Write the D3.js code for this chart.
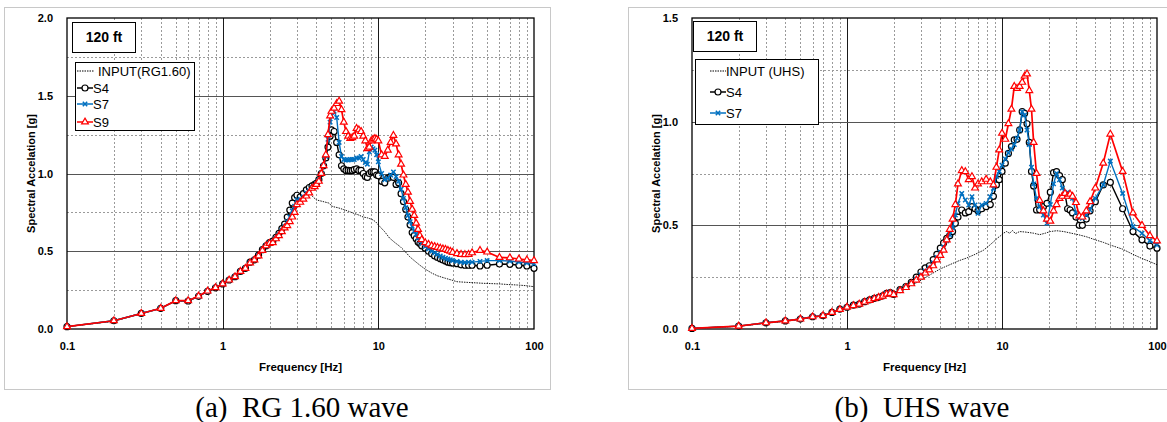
<!DOCTYPE html>
<html>
<head>
<meta charset="utf-8">
<script src="https://cdn.jsdelivr.net/npm/d3@7"></script>
<style>
  body { margin: 0; background: #fff; }
  svg text { font-family: "Liberation Sans", Arial, sans-serif; fill: #000; }
</style>
</head>
<body>
<script>
'use strict';

// ---------- (a) RG 1.60 wave ----------
const freqA = [0.1,0.2,0.3,0.4,0.5,0.6,0.7,0.8,0.9,1.0,
  1.1,1.2,1.3,1.4,1.5,1.6,1.7,1.8,1.9,2.0,
  2.1,2.2,2.3,2.4,2.5,2.6,2.7,2.8,2.9,3.0,
  3.15,3.3,3.45,3.6,3.75,3.9,4.0,4.15,4.3,4.45,
  4.6,4.75,4.9,5.0,5.2,5.4,5.6,5.8,6.0,6.2,
  6.4,6.6,6.8,7.0,7.25,7.5,7.75,8.0,8.25,8.5,
  8.75,9.0,9.25,9.5,9.75,10,10.5,11,11.5,12,
  12.5,13,13.5,14,14.5,15,15.5,16,16.5,17,
  17.5,18,18.5,19,20,21,22,23,24,25,
  26,27,28,29,30,32,34,36,38,40,
  45,50,60,70,80,90,100];

const s4A = [0.015,0.053,0.10,0.133,0.182,0.18,0.21,0.242,0.265,0.29,
  0.315,0.336,0.37,0.39,0.43,0.445,0.475,0.51,0.535,0.555,
  0.565,0.59,0.615,0.645,0.675,0.72,0.765,0.81,0.845,0.86,
  0.85,0.87,0.895,0.91,0.92,0.93,0.937,0.96,1.0,1.05,
  1.10,1.17,1.24,1.28,1.27,1.20,1.12,1.05,1.03,1.02,
  1.02,1.018,1.02,1.025,1.03,1.02,1.02,1.0,0.98,0.975,
  1.0,1.01,1.01,1.01,0.99,0.985,0.95,0.94,0.97,0.98,
  0.975,0.93,0.94,0.87,0.82,0.77,0.72,0.67,0.62,0.60,
  0.58,0.56,0.55,0.535,0.52,0.50,0.485,0.47,0.46,0.452,
  0.444,0.437,0.43,0.426,0.424,0.42,0.413,0.41,0.41,0.41,
  0.405,0.41,0.418,0.416,0.41,0.405,0.39];

const s7A = [0.015,0.053,0.10,0.133,0.182,0.181,0.211,0.243,0.266,0.29,
  0.315,0.336,0.37,0.39,0.428,0.445,0.472,0.508,0.535,0.552,
  0.56,0.585,0.607,0.635,0.66,0.69,0.72,0.76,0.79,0.83,
  0.835,0.85,0.875,0.89,0.91,0.92,0.935,0.955,1.0,1.05,
  1.11,1.22,1.33,1.37,1.40,1.36,1.20,1.11,1.09,1.087,
  1.087,1.09,1.09,1.09,1.10,1.10,1.11,1.09,1.07,1.06,
  1.14,1.17,1.16,1.15,1.12,1.075,1.0,0.96,0.97,0.99,
  1.01,0.98,0.95,0.90,0.84,0.78,0.73,0.69,0.66,0.63,
  0.61,0.585,0.565,0.55,0.53,0.515,0.50,0.49,0.48,0.47,
  0.462,0.455,0.45,0.445,0.44,0.435,0.43,0.428,0.43,0.43,
  0.435,0.44,0.44,0.437,0.43,0.425,0.42];

const s9A = [0.015,0.053,0.10,0.133,0.182,0.182,0.212,0.244,0.266,0.29,
  0.315,0.336,0.37,0.39,0.425,0.444,0.47,0.505,0.535,0.55,
  0.555,0.58,0.60,0.626,0.65,0.665,0.69,0.72,0.75,0.80,
  0.815,0.835,0.855,0.875,0.905,0.915,0.93,0.95,1.0,1.05,
  1.12,1.25,1.37,1.40,1.42,1.45,1.465,1.41,1.33,1.27,
  1.24,1.226,1.23,1.24,1.29,1.28,1.27,1.24,1.21,1.16,
  1.17,1.21,1.22,1.225,1.22,1.21,1.12,1.11,1.15,1.20,
  1.245,1.19,1.12,1.06,0.99,0.93,0.88,0.82,0.77,0.73,
  0.68,0.64,0.60,0.575,0.555,0.545,0.535,0.53,0.525,0.52,
  0.515,0.512,0.505,0.50,0.493,0.485,0.48,0.478,0.48,0.49,
  0.505,0.495,0.46,0.458,0.45,0.444,0.44];

const inFreqA = [0.1,0.2,0.3,0.4,0.5,0.6,0.7,0.8,0.9,1.0,1.2,1.4,1.6,1.8,2.0,2.2,2.4,2.6,2.8,3.0,
  3.2,3.4,3.6,3.8,4.0,4.4,4.8,5.1,5.5,5.9,6.4,6.9,7.4,8.0,8.5,9.1,9.6,10.2,11,11.8,12.8,
  13.8,14.8,15.9,17,18.5,20,22,24,27,29.5,32,37,42,47,53,60,68,78,88,100];
const inA = [0.015,0.05,0.1,0.133,0.18,0.18,0.21,0.24,0.26,0.29,0.335,0.39,0.44,0.5,0.545,0.575,0.62,0.66,0.72,0.78,
  0.82,0.85,0.875,0.85,0.83,0.82,0.81,0.787,0.78,0.77,0.758,0.745,0.735,0.72,0.715,0.705,0.69,0.66,0.625,0.585,0.555,
  0.53,0.5,0.465,0.44,0.41,0.385,0.36,0.342,0.326,0.315,0.304,0.3,0.297,0.294,0.292,0.29,0.286,0.283,0.279,0.272];

// ---------- (b) UHS wave ----------
const freqB = [0.1,0.2,0.3,0.4,0.5,0.6,0.7,0.8,0.9,1.0,
  1.1,1.2,1.3,1.4,1.5,1.6,1.7,1.8,1.9,2.0,
  2.2,2.4,2.6,2.8,3.0,3.2,3.4,3.6,3.8,4.0,
  4.2,4.4,4.6,4.8,5.0,5.2,5.5,5.8,6.1,6.4,
  6.7,7.0,7.4,7.9,8.4,8.8,9.2,9.6,10,10.5,
  11,11.5,12,12.5,13,13.5,14,14.5,15,15.5,
  16,16.7,17.5,18.5,19.5,20.5,21.5,22.5,23.5,24.5,
  25.5,26.5,27.5,28.5,30,31.5,33,35,37,40,
  45,50,60,70,80,90,100];

const s4B = [0.003,0.014,0.03,0.039,0.048,0.059,0.064,0.08,0.096,0.105,
  0.115,0.12,0.132,0.14,0.148,0.153,0.16,0.172,0.175,0.167,
  0.19,0.205,0.225,0.25,0.275,0.295,0.305,0.335,0.36,0.39,
  0.415,0.437,0.45,0.47,0.51,0.54,0.574,0.56,0.566,0.59,
  0.58,0.57,0.58,0.59,0.60,0.64,0.695,0.72,0.76,0.80,
  0.847,0.88,0.912,0.915,0.96,1.048,1.04,0.99,0.90,0.76,
  0.69,0.574,0.575,0.59,0.606,0.66,0.754,0.759,0.74,0.72,
  0.65,0.58,0.574,0.56,0.54,0.50,0.50,0.53,0.57,0.614,
  0.695,0.707,0.58,0.47,0.43,0.40,0.39];

const s7B = [0.003,0.014,0.03,0.039,0.048,0.059,0.064,0.08,0.095,0.105,
  0.114,0.12,0.131,0.139,0.147,0.152,0.159,0.17,0.174,0.167,
  0.187,0.202,0.22,0.24,0.26,0.28,0.295,0.32,0.345,0.37,
  0.395,0.425,0.455,0.49,0.55,0.606,0.654,0.622,0.598,0.638,
  0.598,0.558,0.598,0.606,0.638,0.678,0.735,0.76,0.79,0.82,
  0.85,0.868,0.89,0.92,0.96,1.048,1.032,0.96,0.89,0.78,
  0.70,0.63,0.59,0.55,0.51,0.60,0.70,0.75,0.72,0.68,
  0.65,0.66,0.64,0.63,0.56,0.54,0.534,0.55,0.574,0.63,
  0.695,0.81,0.654,0.494,0.462,0.426,0.405];

const s9B = [0.003,0.014,0.03,0.039,0.048,0.059,0.064,0.08,0.094,0.105,
  0.113,0.12,0.13,0.138,0.146,0.152,0.158,0.168,0.172,0.166,
  0.185,0.2,0.218,0.236,0.25,0.27,0.285,0.305,0.333,0.355,
  0.38,0.43,0.48,0.53,0.60,0.70,0.764,0.759,0.72,0.735,
  0.68,0.70,0.71,0.722,0.71,0.695,0.78,0.864,0.944,0.915,
  0.99,1.06,1.17,1.16,1.17,1.19,1.22,1.23,1.15,1.06,
  0.90,0.75,0.62,0.57,0.53,0.52,0.57,0.60,0.63,0.64,
  0.654,0.64,0.65,0.64,0.61,0.545,0.54,0.57,0.614,0.68,
  0.80,0.94,0.76,0.56,0.50,0.45,0.425];

const inFreqB = [0.1,0.2,0.3,0.4,0.5,0.6,0.7,0.8,0.9,1.0,1.2,1.4,1.6,1.8,2.0,2.3,2.6,3.0,3.5,4.0,4.6,5.3,5.9,
  6.7,7.6,8.2,8.8,9.4,9.8,10.2,10.7,11.2,11.7,12.2,13,14,15,16,17.5,19,20.5,22.5,25,28,31,35,40,45,50,
  60,70,80,90,100];
const inB = [0.003,0.013,0.028,0.037,0.046,0.056,0.062,0.077,0.09,0.1,0.118,0.135,0.15,0.163,0.17,0.19,0.21,0.235,0.265,0.29,0.31,0.33,0.342,
  0.36,0.38,0.40,0.42,0.44,0.45,0.462,0.47,0.462,0.475,0.46,0.47,0.468,0.465,0.462,0.455,0.462,0.47,0.474,0.47,0.462,0.455,0.445,0.43,0.418,0.405,
  0.385,0.36,0.34,0.325,0.31];

const yTicksA = [0, 0.5, 1.0, 1.5, 2.0];
const yTicksB = [0, 0.5, 1.0, 1.5];
const xTicks = [0.1, 1, 10, 100];

const blue = '#0070C0';
const red = '#FF0000';

let svg = d3.select('body').append('svg')
  .attr('width', 1167)
  .attr('height', 422);

drawChart({
  frame: [4.5, 7.5, 546, 382],
  plot: { left: 67, right: 534, top: 18, bottom: 329 },
  yMax: 2.0, yTicks: yTicksA,
  freq: freqA, s4: s4A, s7: s7A, s9: s9A,
  inFreq: inFreqA, input: inA,
  yTitleX: 31,
  tagBox: [72, 22, 63, 30],
  legendBox: [75, 62, 119, 68],
  legend: [
    { label: 'INPUT(RG1.60)', type: 'input', y: 71, x0: 77, x1: 94, tx: 98 },
    { label: 'S4', type: 's4', y: 88, x0: 77, x1: 93, tx: 93 },
    { label: 'S7', type: 's7', y: 104, x0: 77, x1: 93, tx: 93 },
    { label: 'S9', type: 's9', y: 122, x0: 77, x1: 93, tx: 93 }
  ],
  caption: '(a)  RG 1.60 wave', captionX: 302
});

drawChart({
  frame: [628.5, 7.5, 560, 382],
  plot: { left: 692, right: 1157, top: 18, bottom: 329 },
  yMax: 1.5, yTicks: yTicksB,
  freq: freqB, s4: s4B, s7: s7B, s9: s9B,
  inFreq: inFreqB, input: inB,
  yTitleX: 656,
  tagBox: [693, 21, 63, 30],
  legendBox: [695, 59, 123, 65],
  legend: [
    { label: 'INPUT (UHS)', type: 'input', y: 71, x0: 710, x1: 726, tx: 726 },
    { label: 'S4', type: 's4', y: 92, x0: 710, x1: 726, tx: 726 },
    { label: 'S7', type: 's7', y: 113, x0: 710, x1: 726, tx: 726 }
  ],
  caption: '(b)  UHS wave', captionX: 922
});

// draw one response-spectrum panel
function drawChart(c) {
  let p = c.plot;
  let g = svg.append('g');

  // outer chart frame
  g.append('rect')
    .attr('x', c.frame[0]).attr('y', c.frame[1])
    .attr('width', c.frame[2]).attr('height', c.frame[3])
    .attr('fill', '#fff')
    .attr('stroke', '#c8c8c8');

  let xScale = d3.scaleLog().domain([0.1, 100]).range([p.left, p.right]);
  let yScale = d3.scaleLinear().domain([0, c.yMax]).range([p.bottom, p.top]);

  // minor grid
  let minorX = [];
  [0.1, 1, 10].forEach(d => { for (let k = 2; k <= 9; k++) minorX.push(d * k); });
  let minorY = d3.range(0.25, c.yMax, 0.5);

  g.append('g').selectAll('line').data(minorX).enter().append('line')
    .attr('x1', d => Math.round(xScale(d)) + 0.5).attr('x2', d => Math.round(xScale(d)) + 0.5)
    .attr('y1', p.top).attr('y2', p.bottom)
    .attr('stroke', '#9a9a9a').attr('stroke-dasharray', '2,2');
  g.append('g').selectAll('line').data(minorY).enter().append('line')
    .attr('x1', p.left).attr('x2', p.right)
    .attr('y1', d => Math.round(yScale(d)) + 0.5).attr('y2', d => Math.round(yScale(d)) + 0.5)
    .attr('stroke', '#9a9a9a').attr('stroke-dasharray', '2,2');

  // major grid
  g.append('g').selectAll('line').data([1, 10]).enter().append('line')
    .attr('x1', d => Math.round(xScale(d)) + 0.5).attr('x2', d => Math.round(xScale(d)) + 0.5)
    .attr('y1', p.top).attr('y2', p.bottom)
    .attr('stroke', '#1a1a1a');
  g.append('g').selectAll('line').data(c.yTicks.filter(v => v > 0 && v < c.yMax)).enter().append('line')
    .attr('x1', p.left).attr('x2', p.right)
    .attr('y1', d => Math.round(yScale(d)) + 0.5).attr('y2', d => Math.round(yScale(d)) + 0.5)
    .attr('stroke', '#555');

  // axes (labels only, border drawn as rect)
  let yAxis = d3.axisLeft(yScale).tickValues(c.yTicks).tickSize(0).tickPadding(14)
    .tickFormat(d3.format('.1f'));
  g.append('g').attr('transform', 'translate(' + p.left + ',0)').call(yAxis)
    .call(a => a.select('.domain').remove())
    .selectAll('text')
    .style('font-size', '11px').style('font-weight', 'bold')
    .style('font-family', '"Liberation Sans", Arial, sans-serif');

  let xAxis = d3.axisBottom(xScale).tickValues(xTicks).tickSize(0).tickPadding(13)
    .tickFormat(d => d3.format('~g')(d));
  g.append('g').attr('transform', 'translate(0,' + p.bottom + ')').call(xAxis)
    .call(a => a.select('.domain').remove())
    .selectAll('text')
    .style('font-size', '11px').style('font-weight', 'bold')
    .style('font-family', '"Liberation Sans", Arial, sans-serif');

  g.append('rect')
    .attr('x', p.left).attr('y', p.top)
    .attr('width', p.right - p.left).attr('height', p.bottom - p.top)
    .attr('fill', 'none').attr('stroke', '#000').attr('stroke-width', 1.3);

  // axis titles
  g.append('text')
    .attr('x', (p.left + p.right) / 2).attr('y', 371)
    .attr('text-anchor', 'middle')
    .style('font-size', '11.5px').style('font-weight', 'bold')
    .text('Frequency [Hz]');
  g.append('text')
    .attr('transform', 'translate(' + c.yTitleX + ',' + ((p.top + p.bottom) / 2) + ')rotate(-90)')
    .attr('text-anchor', 'middle').attr('dy', '0.35em')
    .style('font-size', '11px').style('font-weight', 'bold')
    .text('Spectral Accelation [g]');

  // data
  let clip = g.append('g');
  let line = d3.line().x(d => xScale(d[0])).y(d => yScale(d[1]));

  let inputPts = c.inFreq.map((f, i) => [f, c.input[i]]);
  clip.append('path').datum(inputPts)
    .attr('d', line).attr('fill', 'none')
    .attr('stroke', '#000').attr('stroke-width', 0.9).attr('stroke-dasharray', '1.5,1');

  let series = [
    { key: 's4', vals: c.s4, color: '#000' },
    { key: 's7', vals: c.s7, color: blue },
    { key: 's9', vals: c.s9, color: red }
  ];
  series.forEach(s => {
    let pts = c.freq.map((f, i) => [f, s.vals[i]]);
    clip.append('path').datum(pts)
      .attr('d', line).attr('fill', 'none')
      .attr('stroke', s.color).attr('stroke-width', s.key == 's9' ? 1.7 : 1.4);
    drawMarkers(clip, pts.map(d => [xScale(d[0]), yScale(d[1])]), s.key);
  });

  // "120 ft" tag
  g.append('rect')
    .attr('x', c.tagBox[0] + 0.5).attr('y', c.tagBox[1] + 0.5)
    .attr('width', c.tagBox[2]).attr('height', c.tagBox[3])
    .attr('fill', '#fff').attr('stroke', '#000');
  g.append('text')
    .attr('x', c.tagBox[0] + c.tagBox[2] / 2 + 0.5).attr('y', c.tagBox[1] + c.tagBox[3] / 2 + 0.5)
    .attr('text-anchor', 'middle').attr('dy', '0.35em')
    .style('font-size', '14px').style('font-weight', 'bold')
    .text('120 ft');

  // legend
  let lb = c.legendBox;
  g.append('rect')
    .attr('x', lb[0] + 0.5).attr('y', lb[1] + 0.5)
    .attr('width', lb[2]).attr('height', lb[3])
    .attr('fill', '#fff').attr('stroke', '#000');
  c.legend.forEach(e => {
    let color = e.type == 's7' ? blue : e.type == 's9' ? red : '#000';
    let ln = g.append('line')
      .attr('x1', e.x0).attr('x2', e.x1).attr('y1', e.y).attr('y2', e.y)
      .attr('stroke', color);
    if (e.type == 'input') {
      ln.attr('stroke-dasharray', '1.5,1');
    } else {
      ln.attr('stroke-width', 1.5);
      drawMarkers(g, [[(e.x0 + e.x1) / 2, e.y]], e.type);
    }
    g.append('text')
      .attr('x', e.tx).attr('y', e.y).attr('dy', '0.35em')
      .style('font-size', '13px')
      .text(e.label);
  });

  // caption
  svg.append('text')
    .attr('x', c.captionX).attr('y', 407)
    .attr('text-anchor', 'middle').attr('dy', '0.35em')
    .attr('xml:space', 'preserve')
    .style('font-family', '"Liberation Serif", "Times New Roman", serif')
    .style('font-size', '29px')
    .style('white-space', 'pre')
    .text(c.caption);
}

// open circle / cross / open triangle markers
function drawMarkers(sel, pts, key) {
  let grp = sel.append('g');
  if (key == 's4') {
    grp.selectAll('circle').data(pts).enter().append('circle')
      .attr('cx', d => d[0]).attr('cy', d => d[1]).attr('r', 3)
      .attr('fill', '#fff').attr('stroke', '#000').attr('stroke-width', 1.2);
  } else if (key == 's7') {
    grp.selectAll('path').data(pts).enter().append('path')
      .attr('d', d => 'M' + (d[0] - 2.2) + ',' + (d[1] - 2.2) + 'L' + (d[0] + 2.2) + ',' + (d[1] + 2.2) +
        'M' + (d[0] - 2.2) + ',' + (d[1] + 2.2) + 'L' + (d[0] + 2.2) + ',' + (d[1] - 2.2))
      .attr('stroke', blue).attr('stroke-width', 1.5);
  } else {
    let tri = d3.symbol(d3.symbolTriangle, 20);
    grp.selectAll('path').data(pts).enter().append('path')
      .attr('transform', d => 'translate(' + d[0] + ',' + d[1] + ')')
      .attr('d', tri)
      .attr('fill', '#fff').attr('stroke', red).attr('stroke-width', 1.2);
  }
}
</script>
</body>
</html>
